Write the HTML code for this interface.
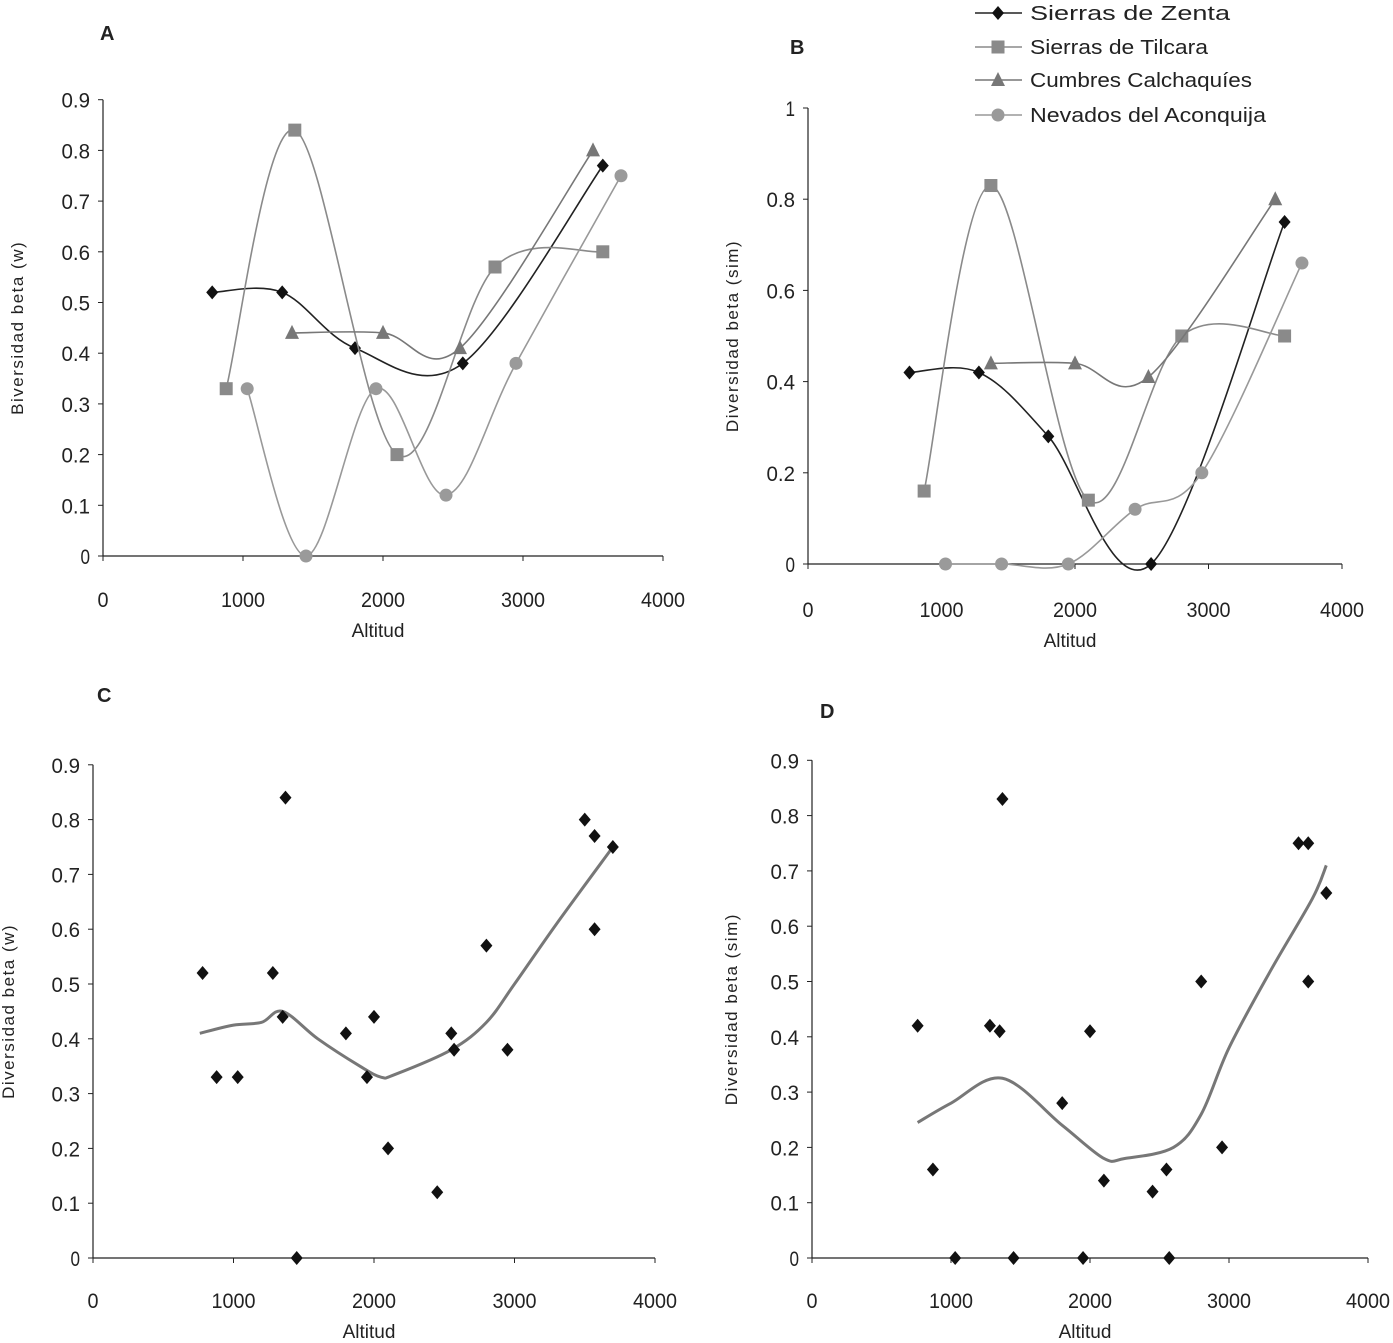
<!DOCTYPE html>
<html><head><meta charset="utf-8"><style>
html,body{margin:0;padding:0;background:#fff;}
svg{display:block;font-family:"Liberation Sans",sans-serif;}
</style></head><body>
<svg id="chart" width="1393" height="1343" viewBox="0 0 1393 1343"></svg>
<script>
// ---- data ----
const zentaA = [[780,0.52],[1280,0.52],[1800,0.41],[2570,0.38],[3570,0.77]];
const tilcaraA = [[880,0.33],[1370,0.84],[2100,0.20],[2800,0.57],[3570,0.60]];
const cumbresA = [[1350,0.44],[2000,0.44],[2550,0.41],[3500,0.80]];
const aconquijaA = [[1030,0.33],[1450,0.0],[1950,0.33],[2450,0.12],[2950,0.38],[3700,0.75]];
const zentaB = [[760,0.42],[1280,0.42],[1800,0.28],[2570,0],[3570,0.75]];
const tilcaraB = [[870,0.16],[1370,0.83],[2100,0.14],[2800,0.50],[3570,0.50]];
const cumbresB = [[1370,0.44],[2000,0.44],[2550,0.41],[3500,0.80]];
const aconquijaB = [[1030,0],[1450,0],[1950,0],[2450,0.12],[2950,0.20],[3700,0.66]];
const cumbresD = [[1350,0.41],[2000,0.41],[2550,0.16],[3500,0.75]];
const trendC = [[760,0.41],[1000,0.425],[1200,0.43],[1350,0.45],[1600,0.40],[1900,0.35],[2050,0.33],[2150,0.335],[2550,0.38],[2800,0.43],[3000,0.50],[3300,0.61],[3700,0.75]];
const trendD = [[760,0.245],[1000,0.28],[1370,0.325],[1800,0.24],[2100,0.18],[2250,0.18],[2600,0.20],[2800,0.26],[3000,0.38],[3300,0.52],[3600,0.65],[3700,0.71]];
const xTicks = [0,1000,2000,3000,4000];
const yTicksW = ["0","0.1","0.2","0.3","0.4","0.5","0.6","0.7","0.8","0.9"];
const yTicksSim = ["0","0.2","0.4","0.6","0.8","1"];
const seriesNames = ["Sierras de Zenta","Sierras de Tilcara","Cumbres Calchaquíes","Nevados del Aconquija"];

const NS="http://www.w3.org/2000/svg";
const svg=document.getElementById('chart');
function mk(tag,attrs,parent){const e=document.createElementNS(NS,tag);for(const k in attrs)e.setAttribute(k,attrs[k]);(parent||svg).appendChild(e);return e;}
function txt(s,x,y,size,anchor,parent,extra){const t=mk('text',Object.assign({x:x,y:y,'font-size':size,'text-anchor':anchor||'middle',fill:'#222'},extra||{}),parent);t.textContent=s;return t;}
function smooth(pts){let d='M'+pts[0][0]+','+pts[0][1];for(let i=0;i<pts.length-1;i++){const p0=pts[i-1]||pts[i],p1=pts[i],p2=pts[i+1],p3=pts[i+2]||p2;const t=1/6;d+=' C'+(p1[0]+(p2[0]-p0[0])*t)+','+(p1[1]+(p2[1]-p0[1])*t)+' '+(p2[0]-(p3[0]-p1[0])*t)+','+(p2[1]-(p3[1]-p1[1])*t)+' '+p2[0]+','+p2[1];}return d;}
function marker(type,x,y,color,g){
  if(type==='d')mk('polygon',{points:`${x},${y-7} ${x+6},${y} ${x},${y+7} ${x-6},${y}`,fill:color},g);
  else if(type==='s')mk('rect',{x:x-6.5,y:y-6.5,width:13,height:13,fill:color},g);
  else if(type==='t')mk('polygon',{points:`${x},${y-8} ${x+7},${y+6} ${x-7},${y+6}`,fill:color},g);
  else mk('circle',{cx:x,cy:y,r:6.5,fill:color},g);
}
function panel(cfg){
  const g=mk('g',{},svg);
  const X=v=>cfg.x0+v*cfg.xs, Y=v=>cfg.y0-v*cfg.ys;
  const ax=mk('g',{},g);
  mk('line',{x1:X(0),y1:Y(0),x2:X(4000),y2:Y(0),stroke:'#222','stroke-width':1.2},ax);
  mk('line',{x1:X(0),y1:Y(0),x2:X(0),y2:Y(cfg.ymax),stroke:'#222','stroke-width':1.2},ax);
  xTicks.forEach(v=>{mk('line',{x1:X(v),y1:Y(0),x2:X(v),y2:Y(0)+5,stroke:'#222'},ax);const t=txt(String(v),X(v),Y(0)+cfg.xl,21,'middle',ax,{'textLength':String(v).length*11,'lengthAdjust':'spacingAndGlyphs'});});
  cfg.yt.forEach((s,i)=>{const v=i*cfg.ystep;mk('line',{x1:X(0)-5,y1:Y(v),x2:X(0),y2:Y(v),stroke:'#222'},ax);const t=txt(s,X(0)-13,Y(v)+8,21,'end',ax,{'textLength':s.length*9.5,'lengthAdjust':'spacingAndGlyphs'});});
  const xt=txt('Altitud',X(2000)-5,Y(0)+cfg.xl+30,19,'middle',g);
  const yc=Y(cfg.ymax/2);
  const yt=txt(cfg.ytitle,cfg.ytx,yc,17,'middle',g,{transform:`rotate(-90 ${cfg.ytx} ${yc})`,'letter-spacing':'1.5'});
  const lt=txt(cfg.id,cfg.lx,cfg.ly,20,'start',g,{'font-weight':'bold'});
  return {g,X,Y};
}
function lines(p,series){
  series.forEach(s=>{const sg=mk('g',{},p.g);
    const pts=s.data.map(d=>[p.X(d[0]),p.Y(d[1])]);
    mk('path',{d:smooth(pts),fill:'none',stroke:s.line,'stroke-width':1.6},sg);
    pts.forEach(q=>marker(s.m,q[0],q[1],s.c,sg));});
}
const styles=[{m:'d',c:'#111',line:'#222'},{m:'s',c:'#8a8a8a',line:'#8a8a8a'},{m:'t',c:'#777',line:'#777'},{m:'c',c:'#9a9a9a',line:'#999'}];
const pA=panel({id:'A',x0:103,y0:556,xs:0.1400,ys:507,ymax:0.9,ystep:0.1,yt:yTicksW,ytitle:'Biversidad beta (w)',ytx:23,lx:100,ly:40,xl:51});
lines(pA,[zentaA,tilcaraA,cumbresA,aconquijaA].map((d,i)=>Object.assign({data:d,name:'series-a-'+i},styles[i])));
const pB=panel({id:'B',x0:808,y0:564,xs:0.1335,ys:456,ymax:1,ystep:0.2,yt:yTicksSim,ytitle:'Diversidad beta (sim)',ytx:738,lx:790,ly:54,xl:53});
lines(pB,[zentaB,tilcaraB,cumbresB,aconquijaB].map((d,i)=>Object.assign({data:d,name:'series-b-'+i},styles[i])));
function scatter(p,sets,trend,name){
  mk('path',{d:smooth(trend.map(d=>[p.X(d[0]),p.Y(d[1])])),fill:'none',stroke:'#777','stroke-width':3},p.g);
  const sg=mk('g',{},p.g);
  sets.forEach(s=>s.forEach(d=>marker('d',p.X(d[0]),p.Y(d[1]),'#111',sg)));
}
const pC=panel({id:'C',x0:93,y0:1258,xs:0.1405,ys:548,ymax:0.9,ystep:0.1,yt:yTicksW,ytitle:'Diversidad beta (w)',ytx:14,lx:97,ly:702,xl:50});
scatter(pC,[zentaA,tilcaraA,cumbresA,aconquijaA],trendC,'panel-c');
const pD=panel({id:'D',x0:812,y0:1258,xs:0.1390,ys:553,ymax:0.9,ystep:0.1,yt:yTicksW,ytitle:'Diversidad beta (sim)',ytx:737,lx:820,ly:718,xl:50});
scatter(pD,[zentaB,tilcaraB,cumbresD,aconquijaB],trendD,'panel-d');
// legend
const lg=mk('g',{},svg);
seriesNames.forEach((n,i)=>{const y=[13,47,80,115][i];const e=mk('g',{},lg);
  mk('line',{x1:975,y1:y,x2:1022,y2:y,stroke:styles[i].line,'stroke-width':1.6},e);marker(styles[i].m,998,y,styles[i].c,e);
  txt(n,1030,y+7,20,'start',e,{'textLength':[200,178,222,236][i],'lengthAdjust':'spacingAndGlyphs'});});
</script>
</body></html>
